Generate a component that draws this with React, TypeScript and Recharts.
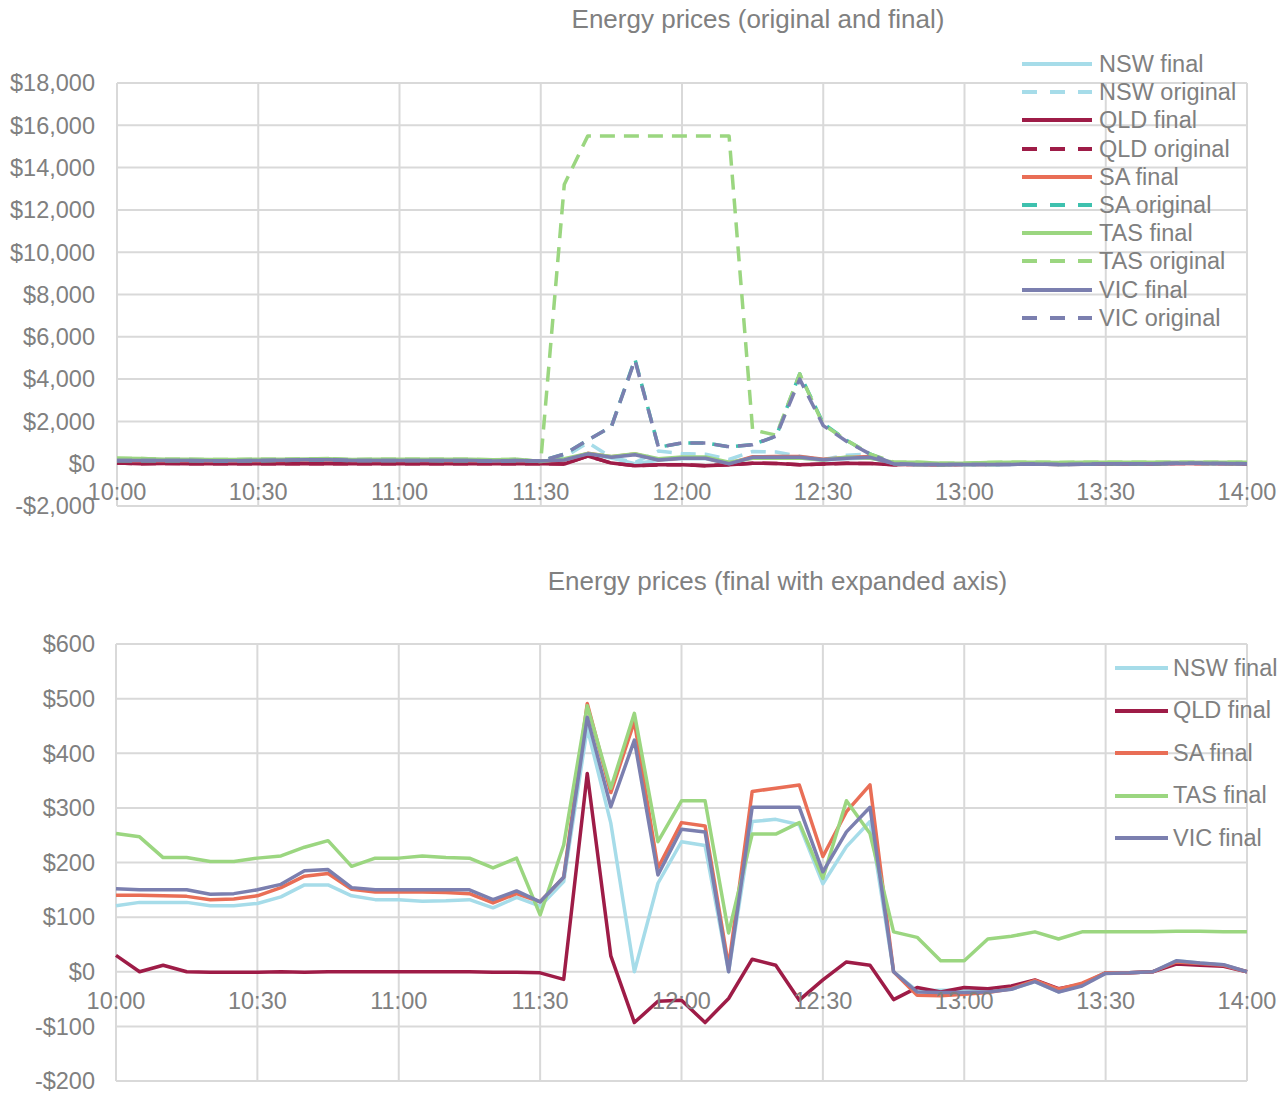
import React from 'react';
import { LineChart, Line, XAxis, YAxis, CartesianGrid, Legend } from 'recharts';

// minutes after 10:00, every 5 minutes to 14:00
const minutes = [
  0, 5, 10, 15, 20, 25, 30, 35, 40, 45, 50, 55, 60, 65, 70, 75, 80, 85, 90, 95, 100, 105, 110, 115, 120,
  125, 130, 135, 140, 145, 150, 155, 160, 165, 170, 175, 180, 185, 190, 195, 200, 205, 210, 215, 220, 225, 230, 235, 240,
];

const nswFinal = [
  121, 127, 127, 127, 121, 121, 125, 137, 159, 159, 139, 132, 132, 129, 130, 132, 117, 136, 120, 165, 446, 272, 0, 162, 238,
  231, 0, 275, 279, 269, 161, 229, 275, 0, -35, -34, -34, -35, -32, -18, -37, -24, -2, -2, 0, 20, 16, 13, 0,
];
const qldFinal = [
  30, 0, 12, 0, -1, -1, -1, 0, -1, 0, 0, 0, 0, 0, 0, 0, -1, -1, -2, -14, 363, 29, -93, -54, -52,
  -93, -49, 23, 12, -52, -15, 18, 12, -51, -29, -37, -29, -31, -26, -15, -31, -23, -2, -2, 0, 14, 12, 10, 0,
];
const saFinal = [
  140, 140, 139, 138, 132, 133, 139, 154, 175, 180, 151, 146, 146, 146, 145, 143, 126, 143, 128, 173, 491, 328, 458, 190, 273,
  267, 10, 330, 336, 342, 211, 293, 342, 0, -43, -44, -41, -38, -31, -16, -32, -21, -2, -2, 0, 18, 15, 12, 0,
];
const tasFinal = [
  253, 247, 209, 209, 202, 202, 208, 212, 228, 240, 193, 208, 208, 212, 209, 208, 190, 208, 104, 232, 487, 336, 473, 238, 313,
  313, 71, 252, 252, 273, 171, 313, 253, 73, 63, 20, 20, 60, 65, 73, 60, 73, 73, 73, 73, 74, 74, 73, 73,
];
const vicFinal = [
  152, 150, 150, 150, 142, 143, 150, 160, 185, 187, 154, 150, 150, 150, 150, 150, 132, 148, 128, 173, 466, 302, 424, 177, 261,
  256, 0, 301, 301, 301, 183, 256, 301, 0, -37, -38, -38, -37, -32, -18, -37, -26, -3, -2, 0, 20, 16, 13, 0,
];

const nswOriginal = [
  121, 127, 127, 127, 121, 121, 125, 137, 159, 159, 139, 132, 132, 129, 130, 132, 117, 136, 120, 300, 1000, 300, 50, 600, 480,
  450, 200, 580, 550, 350, 200, 400, 450, 0, -35, -34, -34, -35, -32, -18, -37, -24, -2, -2, 0, 20, 16, 13, 0,
];
const qldOriginal = [
  30, 0, 12, 0, -1, -1, -1, 0, -1, 0, 0, 0, 0, 0, 0, 0, -1, -1, -2, -14, 363, 29, -93, -54, -52,
  -93, -49, 23, 12, -52, -15, 18, 12, -51, -29, -37, -29, -31, -26, -15, -31, -23, -2, -2, 0, 14, 12, 10, 0,
];
const saOriginal = [
  140, 140, 139, 138, 132, 133, 139, 154, 175, 180, 151, 146, 146, 146, 145, 143, 126, 143, 128, 450, 1120, 1750, 4950, 780, 980,
  980, 800, 900, 1300, 4250, 1900, 1100, 450, 0, -43, -44, -41, -38, -31, -16, -32, -21, -2, -2, 0, 18, 15, 12, 0,
];
const tasOriginal = [
  253, 247, 209, 209, 202, 202, 208, 212, 228, 240, 193, 208, 208, 212, 209, 208, 190, 208, 104, 13200, 15500, 15500, 15500, 15500, 15500,
  15500, 15500, 1600, 1350, 4250, 1850, 1100, 450, 73, 63, 20, 20, 60, 65, 73, 60, 73, 73, 73, 73, 74, 74, 73, 73,
];
const vicOriginal = [
  152, 150, 150, 150, 142, 143, 150, 160, 185, 187, 154, 150, 150, 150, 150, 150, 132, 148, 128, 450, 1120, 1750, 4900, 780, 980,
  980, 800, 900, 1300, 4000, 1800, 1050, 450, 0, -37, -38, -38, -37, -32, -18, -37, -26, -3, -2, 0, 20, 16, 13, 0,
];

const xTicks = [0, 30, 60, 90, 120, 150, 180, 210, 240];
const topYTicks = [-2000, 0, 2000, 4000, 6000, 8000, 10000, 12000, 14000, 16000, 18000];
const bottomYTicks = [-200, -100, 0, 100, 200, 300, 400, 500, 600];

const COLORS = {
  nsw: '#A6DCE9',
  qld: '#9E1C47',
  sa: '#E96E56',
  saOrig: '#3EC1AE',
  tas: '#9BD680',
  vic: '#7B7FAF',
};
const TEXT = '#808080';
const GRID = '#D9D9D9';
const FONT = '"Liberation Sans", Arial, Helvetica, sans-serif';
const FS = 23.5;

const data = minutes.map((t, i) => ({
  t,
  nswFinal: nswFinal[i],
  nswOriginal: nswOriginal[i],
  qldFinal: qldFinal[i],
  qldOriginal: qldOriginal[i],
  saFinal: saFinal[i],
  saOriginal: saOriginal[i],
  tasFinal: tasFinal[i],
  tasOriginal: tasOriginal[i],
  vicFinal: vicFinal[i],
  vicOriginal: vicOriginal[i],
}));

const fmtTime = (m: number) => {
  const h = 10 + Math.floor(m / 60);
  const mm = m % 60;
  return `${h}:${mm < 10 ? '0' : ''}${mm}`;
};
const fmtMoney = (v: number) => {
  const s = Math.abs(v).toLocaleString('en-US');
  return v < 0 ? `-$${s}` : `$${s}`;
};

const makeXTick = (dy: number) => (props: any) => {
  const { x, y, payload } = props;
  return (
    <text x={x} y={y} dy={dy} textAnchor="middle" fill={TEXT} fontSize={FS} fontFamily={FONT}>
      {fmtTime(payload.value)}
    </text>
  );
};

type Item = { key: string; name: string; color: string; dashed: boolean };

const topSeries: Item[] = [
  { key: 'nswFinal', name: 'NSW final', color: COLORS.nsw, dashed: false },
  { key: 'nswOriginal', name: 'NSW original', color: COLORS.nsw, dashed: true },
  { key: 'qldFinal', name: 'QLD final', color: COLORS.qld, dashed: false },
  { key: 'qldOriginal', name: 'QLD original', color: COLORS.qld, dashed: true },
  { key: 'saFinal', name: 'SA final', color: COLORS.sa, dashed: false },
  { key: 'saOriginal', name: 'SA original', color: COLORS.saOrig, dashed: true },
  { key: 'tasFinal', name: 'TAS final', color: COLORS.tas, dashed: false },
  { key: 'tasOriginal', name: 'TAS original', color: COLORS.tas, dashed: true },
  { key: 'vicFinal', name: 'VIC final', color: COLORS.vic, dashed: false },
  { key: 'vicOriginal', name: 'VIC original', color: COLORS.vic, dashed: true },
];
const bottomSeries: Item[] = topSeries.filter((s) => !s.dashed);

function LegendBox({ items, rowHeight, lineWidth, gap }: { items: Item[]; rowHeight: number; lineWidth: number; gap: number }) {
  return (
    <div style={{ fontFamily: FONT, fontSize: FS, color: TEXT }}>
      {items.map((it) => (
        <div key={it.key} style={{ display: 'flex', alignItems: 'center', height: rowHeight, whiteSpace: 'nowrap' }}>
          <svg width={lineWidth} height={8} style={{ marginRight: gap, flex: 'none', display: 'block' }}>
            <line
              x1={0}
              y1={4}
              x2={lineWidth}
              y2={4}
              stroke={it.color}
              strokeWidth={4}
              strokeDasharray={it.dashed ? '15 13' : undefined}
            />
          </svg>
          <span style={{ lineHeight: `${rowHeight}px` }}>{it.name}</span>
        </div>
      ))}
    </div>
  );
}

const titleStyle = (cx: number, cy: number): React.CSSProperties => ({
  position: 'absolute',
  left: cx,
  top: cy - 15,
  transform: 'translateX(-50%)',
  whiteSpace: 'nowrap',
  fontFamily: FONT,
  fontSize: 26,
  lineHeight: '30px',
  color: TEXT,
});

export default function App() {
  return (
    <div style={{ position: 'relative', width: 1287, height: 1093, background: '#fff', overflow: 'hidden' }}>
      <style>{'body{margin:0;background:#fff}'}</style>

      <div style={{ position: 'absolute', left: 0, top: 0 }}>
        <LineChart width={1287} height={530} data={data} margin={{ top: 83, right: 40, bottom: 0, left: 0 }}>
          <CartesianGrid stroke={GRID} strokeWidth={2} />
          <XAxis
            dataKey="t"
            type="number"
            domain={[0, 240]}
            ticks={xTicks}
            interval={0}
            height={24}
            axisLine={false}
            tickLine={false}
            tickSize={0}
            tickMargin={0}
            tick={makeXTick(-5.6)}
          />
          <YAxis
            type="number"
            domain={[-2000, 18000]}
            ticks={topYTicks}
            interval={0}
            width={117}
            axisLine={false}
            tickLine={false}
            tickSize={0}
            tickMargin={22}
            tickFormatter={fmtMoney}
            tick={{ fill: TEXT, fontSize: FS, fontFamily: FONT }}
          />
          <Legend
            layout="vertical"
            align="center"
            verticalAlign="middle"
            wrapperStyle={{ top: 50, left: 1022, width: 'auto' }}
            content={() => <LegendBox items={topSeries} rowHeight={28.2} lineWidth={70} gap={7} />}
          />
          {topSeries.map((s) => (
            <Line
              key={s.key}
              dataKey={s.key}
              name={s.name}
              stroke={s.color}
              strokeWidth={3.5}
              strokeDasharray={s.dashed ? '15 9' : undefined}
              strokeLinejoin="round"
              dot={false}
              activeDot={false}
              isAnimationActive={false}
              type="linear"
            />
          ))}
        </LineChart>
      </div>

      <div style={{ position: 'absolute', left: 0, top: 540 }}>
        <LineChart width={1287} height={553} data={data} margin={{ top: 104, right: 40, bottom: 0, left: 0 }}>
          <CartesianGrid stroke={GRID} strokeWidth={2} />
          <XAxis
            dataKey="t"
            type="number"
            domain={[0, 240]}
            ticks={xTicks}
            interval={0}
            height={12}
            axisLine={false}
            tickLine={false}
            tickSize={0}
            tickMargin={0}
            tick={makeXTick(-72)}
          />
          <YAxis
            type="number"
            domain={[-200, 600]}
            ticks={bottomYTicks}
            interval={0}
            width={116}
            axisLine={false}
            tickLine={false}
            tickSize={0}
            tickMargin={21}
            tickFormatter={fmtMoney}
            tick={{ fill: TEXT, fontSize: FS, fontFamily: FONT }}
          />
          <Legend
            layout="vertical"
            align="center"
            verticalAlign="middle"
            wrapperStyle={{ top: 106.75, left: 1115, width: 'auto' }}
            content={() => <LegendBox items={bottomSeries} rowHeight={42.5} lineWidth={53} gap={5} />}
          />
          {bottomSeries.map((s) => (
            <Line
              key={s.key}
              dataKey={s.key}
              name={s.name}
              stroke={s.color}
              strokeWidth={3.5}
              strokeLinejoin="round"
              dot={false}
              activeDot={false}
              isAnimationActive={false}
              type="linear"
            />
          ))}
        </LineChart>
      </div>

      <div style={titleStyle(758, 19)}>Energy prices (original and final)</div>
      <div style={titleStyle(777.5, 581)}>Energy prices (final with expanded axis)</div>
    </div>
  );
}
